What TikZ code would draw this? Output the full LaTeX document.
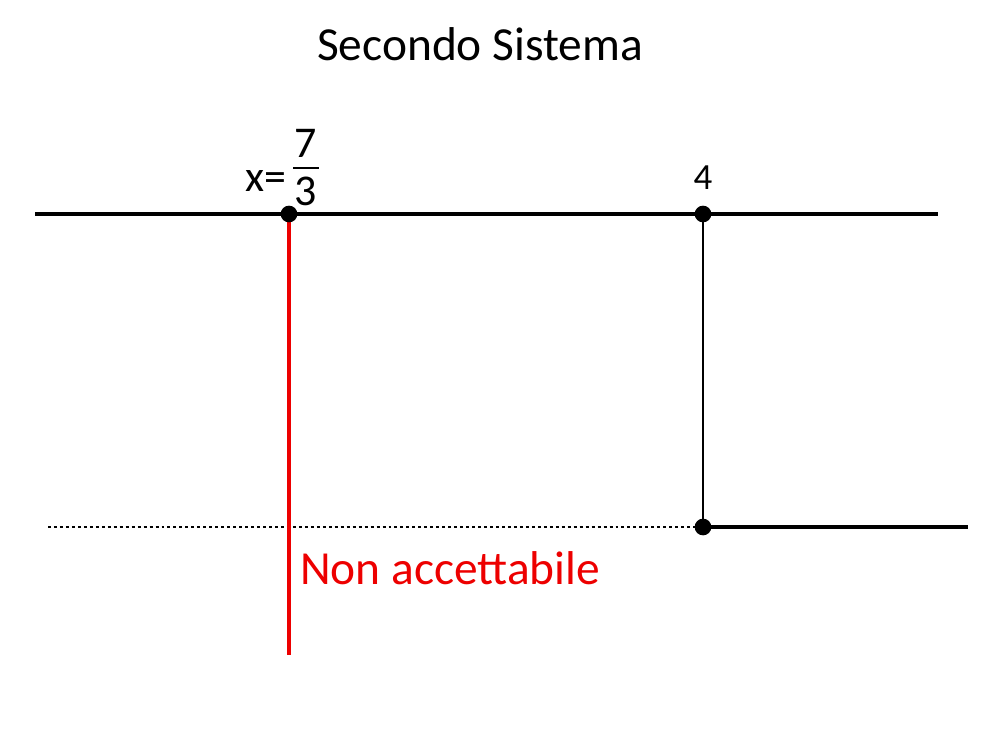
\documentclass[tikz,border=0pt]{standalone}
\usepackage{fontspec}
\setmainfont{Carlito}
\usetikzlibrary{positioning}
\definecolor{rossoacceso}{rgb}{0.93,0.0,0.0}
\newcommand{\frazione}[2]{\vbox{\halign{\hbox to 14.8pt{\hfil##\hfil}\cr #1\cr\noalign{\kern5pt\hrule height 1.1pt\kern5pt}#2\cr}}}
\tikzset{
  retta/.style={
    line width=2.3pt,
    black
  },
  segno/.style={
    line width=1.1pt,
    black
  },
  tratteggio/.style={
    line width=1.1pt,
    dash pattern=on 1.7pt off 1.7pt
  },
  limite/.style={
    line width=2.3pt,
    rossoacceso
  },
  punto/.style={
    circle,
    fill=black,
    inner sep=0pt,
    minimum size=9.5pt
  },
  etichetta/.style={
    inner sep=0pt,
    font=\fontsize{25}{30}\selectfont
  }
}

\begin{document}
\begin{tikzpicture}[x=0.02cm,y=-0.02cm]
\useasboundingbox (0,0) rectangle (1000,750);
% title
\node[font=\fontsize{27}{32}\selectfont] (titolo) at (480,44) {Secondo Sistema};
% points
\coordinate (p1) at (289,214);
\coordinate (p2) at (703,214);
\coordinate (p3) at (703,527);
\coordinate (sx1) at (35,214);
\coordinate (dx1) at (938,214);
\coordinate (sx2) at (48,527);
\coordinate (dx2) at (968,527);
\coordinate (fondo) at (289,655);
% lines
\draw[retta] (sx1) -- (dx1);
\draw[segno] (p2) -- (p3);
\draw[tratteggio] (sx2) -- (p3);
\draw[retta,line width=1.8pt] (p3) -- (dx2);
\draw[limite] (p1) -- (fondo);
\node[punto] (a) at (p1) {};
\node[punto] (b) at (p2) {};
\node[punto] (c) at (p3) {};
% labels
\node[etichetta,anchor=east] (xuguale) at (287,181) {x=};
\node[etichetta] (frac) at (306,168) {\frazione{7}{3}};
\node[etichetta,font=\fontsize{21}{25}\selectfont,above=0.3cm of b] (quattro) {4};
\node[font=\fontsize{27}{32}\selectfont,text=rossoacceso,anchor=west] (nonacc) at (294,568) {Non accettabile};
\end{tikzpicture}
\end{document}
